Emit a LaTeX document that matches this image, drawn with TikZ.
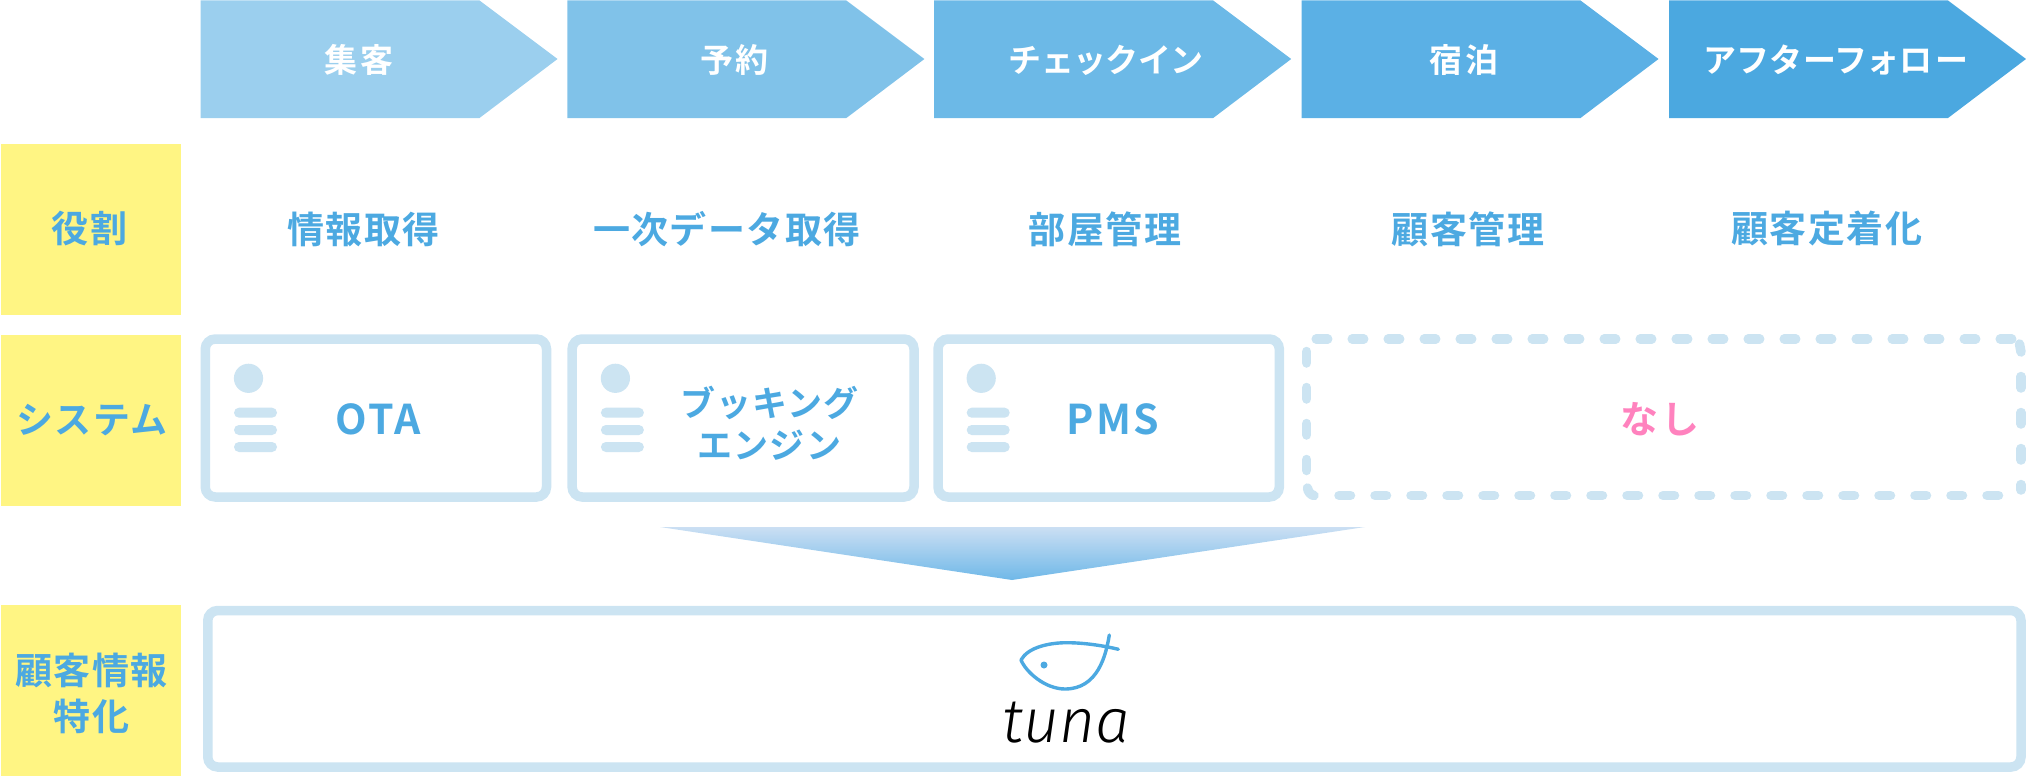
\documentclass[tikz,border=0pt]{standalone}
\usepackage{fontspec}
\usetikzlibrary{calc}
\newfontfamily\jpf[LetterSpace=4]{Noto Sans CJK JP Bold}
\newfontfamily\jph[LetterSpace=9,RawFeature=+palt]{Noto Sans CJK JP Bold}
\newfontfamily\jpc[LetterSpace=3]{Noto Sans CJK JP Bold}
\newfontfamily\jpl[LetterSpace=6]{Noto Sans CJK JP Bold}
\newfontfamily\tunaf{Fira Sans Light Italic}
\definecolor{txtblue}{HTML}{4CA9E1}
\definecolor{ymark}{HTML}{FFF583}
\definecolor{pale}{HTML}{CCE4F2}
\definecolor{pinktxt}{HTML}{FF82BE}
\definecolor{cha}{HTML}{9BCFEE}
\definecolor{chb}{HTML}{80C2E9}
\definecolor{chc}{HTML}{6CB9E7}
\definecolor{chd}{HTML}{5BB0E5}
\definecolor{che}{HTML}{4BA8E0}
\definecolor{arrtop}{HTML}{CBDFF3}
\definecolor{arrbot}{HTML}{6FB8E8}
\tikzset{
  x=1pt,y=-1pt,
  chevlabel/.style={inner sep=0,text=white,font=\jph\fontsize{33}{38}\selectfont},
  rolelabel/.style={inner sep=0,text=txtblue,align=center,font=\jpf\fontsize{37}{46}\selectfont},
  cardlabel/.style={inner sep=0,text=txtblue,align=center,font=\jpc\fontsize{35}{42}\selectfont},
  latinlabel/.style={inner sep=0,text=txtblue,font=\jpl\fontsize{41}{46}\selectfont},
  ybox/.style={fill=ymark},
  cardbox/.style={draw=pale,line width=9.5pt,rounded corners=10pt,fill=white},
  dashbox/.style={draw=pale,line width=9.5pt,line cap=round,dash pattern=on 11.5pt off 24.5pt},
  dashhook/.style={draw=pale,line width=9.5pt,line cap=round},
  iconpart/.style={fill=pale},
  iconbar/.style={fill=pale,rounded corners=5pt},
  fishline/.style={draw=txtblue,line width=3.4pt,line cap=round,line join=round},
}
\newcommand{\chevshape}[2]{%
  \fill[#2] (#1,0.5) -- ++(279,0) -- ++(78,58.5) -- ++(-78,59) -- ++(-279,0) -- cycle;}
\newcommand{\cardicon}[1]{%
  \fill[iconpart] (#1+48,378.3) circle (14.6);
  \fill[iconbar] (#1+33.5,407.7) rectangle ++(43,10);
  \fill[iconbar] (#1+33.5,425) rectangle ++(43,10);
  \fill[iconbar] (#1+33.5,442) rectangle ++(43,10);}
\begin{document}
\begin{tikzpicture}
\useasboundingbox (0,0) rectangle (2026,776);
% chevrons
\chevshape{200.5}{cha}
\chevshape{567.4}{chb}
\chevshape{934.2}{chc}
\chevshape{1301.5}{chd}
\chevshape{1669}{che}
\node[chevlabel] (c1) at (359,60) {集客};
\node[chevlabel] (c2) at (734.5,60) {予約};
\node[chevlabel] (c3) at (1106,60) {チェックイン};
\node[chevlabel] (c4) at (1463.6,60) {宿泊};
\node[chevlabel] (c5) at (1836.4,60) {アフターフォロー};
% yellow side boxes
\fill[ybox] (1,144) rectangle (181,315);
\fill[ybox] (1,334.5) rectangle (181,505.5);
\fill[ybox] (1,604.7) rectangle (181,776);
\node[rolelabel] (s1) at (89.4,229) {役割};
\node[rolelabel] (s2) at (92,420.5) {システム};
\node[rolelabel] (s3) at (91.5,693) {顧客情報\\特化};
% role row
\node[rolelabel] (r1) at (363.7,229) {情報取得};
\node[rolelabel] (r2) at (727,229) {一次データ取得};
\node[rolelabel] (r3) at (1105,229) {部屋管理};
\node[rolelabel] (r4) at (1468,229) {顧客管理};
\node[rolelabel] (r5) at (1826.7,229) {顧客定着化};
% cards
\draw[cardbox] (205.25,339) rectangle (546.5,497);
\draw[cardbox] (572.1,339) rectangle (914,497);
\draw[cardbox] (938,339) rectangle (1279.3,497);
\cardicon{200.5}
\cardicon{567.4}
\cardicon{933.2}
\node[latinlabel] (p1) at (378,419.5) {OTA};
\node[cardlabel] (p2) at (769.5,423) {ブッキング\\エンジン};
\node[latinlabel] (p3) at (1112.6,419.5) {PMS};
% dashed box, side by side
\draw[dashbox] (1316.2,339) -- (2011.7,339);
\draw[dashhook] (2019.5,344) -- (2021,352);
\draw[dashbox] (2021,376.5) -- (2021,490);
\draw[dashbox] (1339,495.5) -- (1998.8,495.5);
\draw[dashbox] (1306.7,351.5) -- (1306.7,470.5);
\draw[dashhook] (1307.5,488) .. controls (1308,492) and (1311,495) .. (1314,495.5);
\node[inner sep=0,text=pinktxt,font=\jpl\fontsize{38}{46}\selectfont] (p4) at (1660,419) {なし};
% gradient arrow
\shade[top color=arrtop,bottom color=arrbot] (660,527) -- (1365,527) -- (1012,580) -- cycle;
% big box
\draw[cardbox] (207.75,610.5) rectangle (2021,767);
% fish
\draw[fishline] (1109.3,635) .. controls (1106,655) and (1098,689) .. (1065,689)
  .. controls (1045,689) and (1026,672) .. (1021,660)
  .. controls (1028,647) and (1050,642.7) .. (1066.7,642.7)
  .. controls (1085,642.7) and (1105,646) .. (1118.3,649.3);
\fill[txtblue] (1044,665) circle (3.5);
\node[inner sep=0,font=\tunaf\fontsize{62}{62}\selectfont,text=black] (tuna) at (1066,723) {tuna};
\end{tikzpicture}
\end{document}
